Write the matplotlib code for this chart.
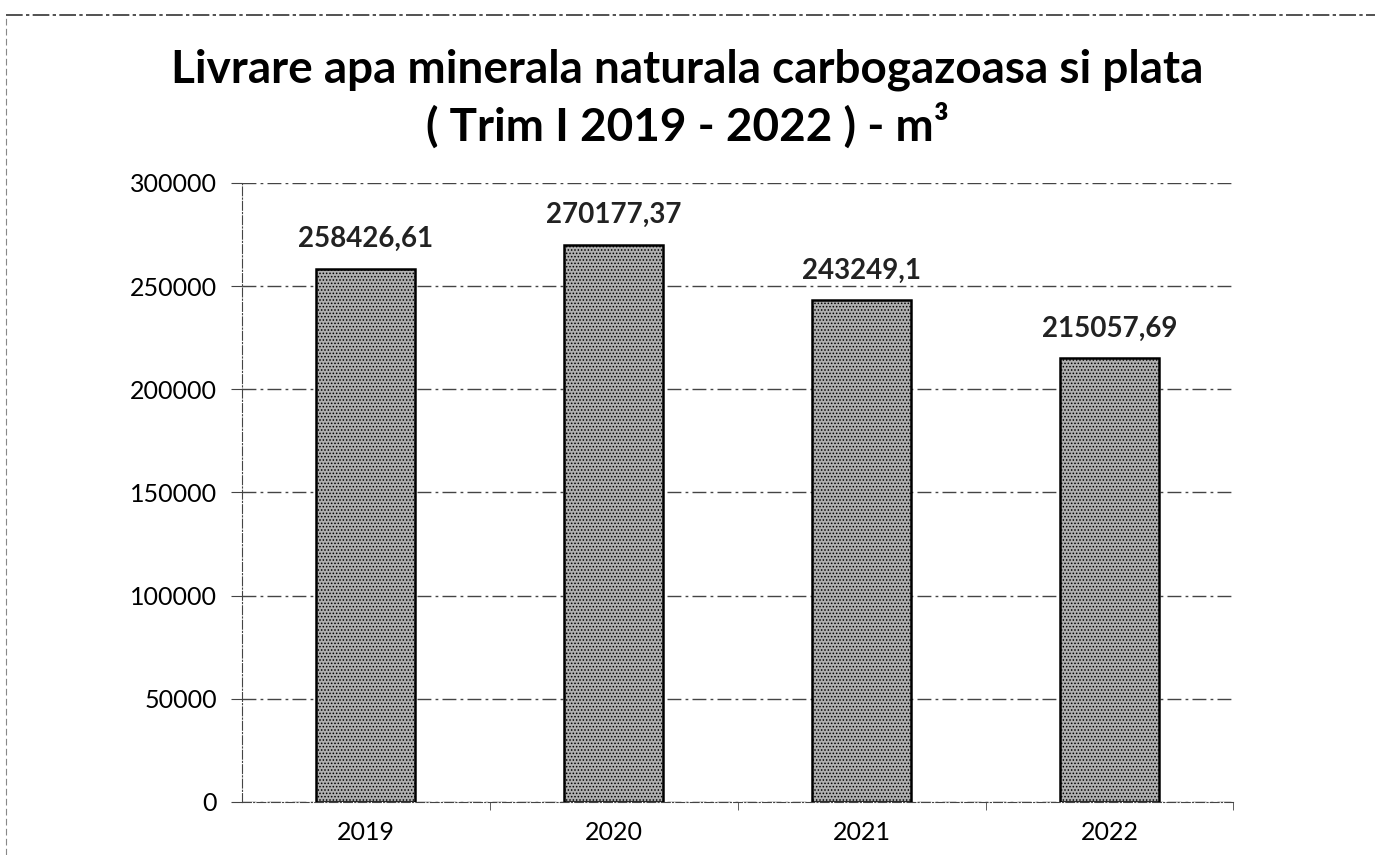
import matplotlib.pyplot as plt
from matplotlib.lines import Line2D

plt.rcParams['font.family'] = ['Lato', 'DejaVu Sans']
plt.rcParams['hatch.color'] = '#5a5a5a'
plt.rcParams['hatch.linewidth'] = 0.7

years = ['2019', '2020', '2021', '2022']
values = [258426.61, 270177.37, 243249.1, 215057.69]
value_labels = ['258426,61', '270177,37', '243249,1', '215057,69']
y_ticks = [0, 50000, 100000, 150000, 200000, 250000, 300000]

fig = plt.figure(figsize=(13.75, 8.55), dpi=100)
ax = fig.add_axes([0.176, 0.062, 0.721, 0.724])

x = range(len(years))
bars = ax.bar(x, values, width=0.4, color='#b0b0b0', edgecolor='black',
              linewidth=1.8, hatch='.....', zorder=3)

for i, v in enumerate(values):
    ax.text(i, v + 8000, value_labels[i], ha='center', va='bottom',
            fontsize=20, fontweight='bold', color='#222222')

ax.set_xlim(-0.5, len(years) - 0.5)
ax.set_ylim(0, 300000)
ax.set_yticks(y_ticks)
ax.set_yticklabels([str(t) for t in y_ticks], fontsize=18)
ax.set_xticks(list(x))
ax.set_xticklabels(years, fontsize=18)
ax.set_xticks([i + 0.5 for i in range(len(years))], minor=True)
ax.tick_params(axis='x', which='major', length=0, pad=14)
ax.tick_params(axis='x', which='minor', length=6, color='#444444')
ax.tick_params(axis='y', length=8, color='#444444', pad=10)

ax.yaxis.grid(True, color='#444444', linestyle=(0, (10, 3, 2, 3)),
              linewidth=1.0, zorder=0)
for s in ['top', 'right']:
    ax.spines[s].set_visible(False)
ax.spines['left'].set_color('#444444')
ax.spines['left'].set_linestyle((0, (8, 2, 1, 2)))
ax.spines['bottom'].set_color('#444444')
ax.spines['bottom'].set_linestyle((0, (8, 2, 1, 2)))

fig.text(0.5, 0.918, 'Livrare apa minerala naturala carbogazoasa si plata',
         ha='center', va='center', fontsize=33, fontweight='bold')
fig.text(0.5, 0.853, '( Trim I 2019 - 2022 ) - m³',
         ha='center', va='center', fontsize=33, fontweight='bold')

# scanned frame edges
fig.add_artist(Line2D([0.004, 1.0], [0.982, 0.982], transform=fig.transFigure,
                      color='#333333', linewidth=1.2, linestyle=(0, (10, 2, 2, 2))))
fig.add_artist(Line2D([0.004, 0.004], [0.0, 0.982], transform=fig.transFigure,
                      color='#888888', linewidth=0.8, linestyle=(0, (6, 3))))

fig.savefig('out.png', dpi=100)
